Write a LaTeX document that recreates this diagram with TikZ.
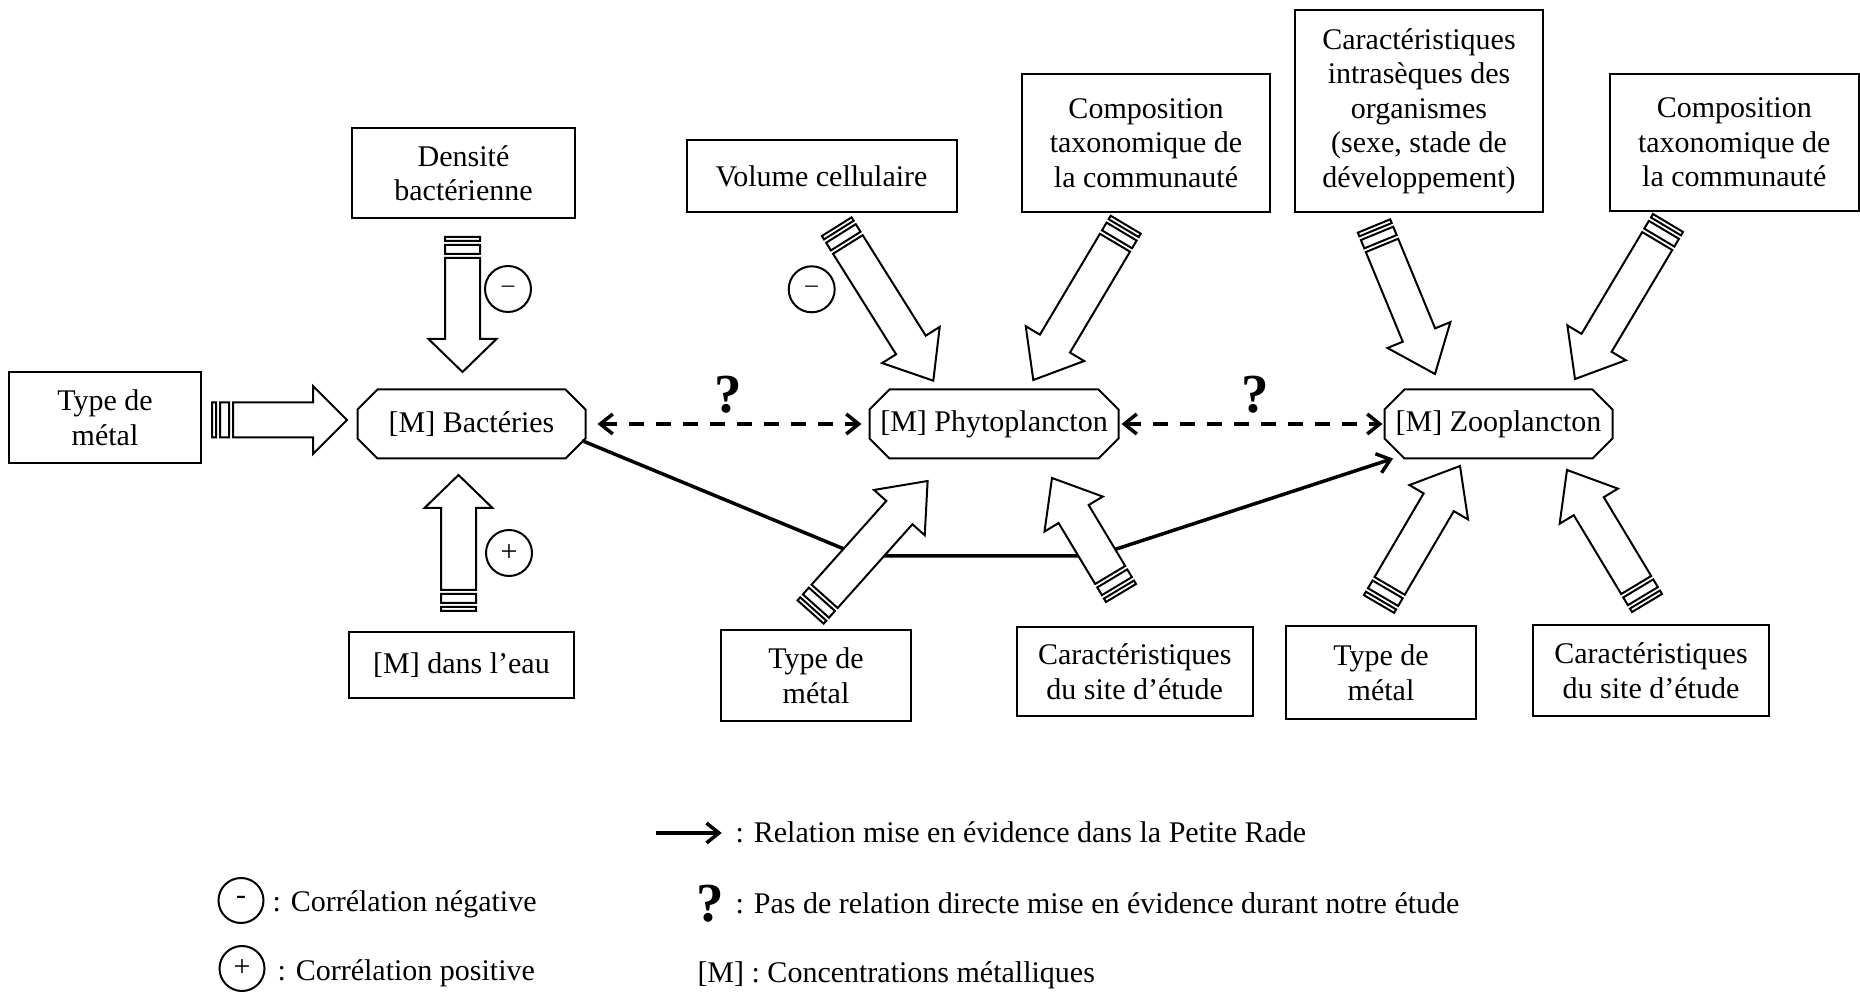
\documentclass[tikz,border=0pt]{standalone}
\usepackage{fontspec}
\setmainfont{Liberation Serif}
\usetikzlibrary{calc,arrows.meta}
\tikzset{
 bx/.style={draw, line width=0.8pt, align=center, inner sep=0pt},
 oct/.style={inner sep=0pt, align=center},
 octline/.style={draw, line width=0.8pt, line join=miter},
 blk/.style={draw, fill=white, line width=0.8pt, line join=miter},
 circ/.style={circle, draw, line width=0.8pt, minimum size=18.4pt, inner sep=0pt},
 rel/.style={line width=1.4pt, line join=round, -{Straight Barb[length=5pt,width=8pt]}},
 unk/.style={line width=1.4pt, dash pattern=on 6pt off 4.8pt, {Straight Barb[length=5pt,width=8pt]}-{Straight Barb[length=5pt,width=8pt]}},
 qm/.style={font=\fontsize{22}{24}\selectfont\bfseries, inner sep=0pt, anchor=base},
 leg/.style={inner sep=0pt, anchor=base west},
}
\newcommand\octa[1]{\draw[octline] ([xshift=8pt]#1.north west) -- ([xshift=-8pt]#1.north east) -- ([yshift=-8pt]#1.north east) -- ([yshift=8pt]#1.south east) -- ([xshift=-8pt]#1.south east) -- ([xshift=8pt]#1.south west) -- ([yshift=8pt]#1.south west) -- ([yshift=-8pt]#1.north west) -- cycle;}
\newcommand\blockarrow[3]{%
 \draw[blk] let \p1=($(#2)-(#1)$), \n1={atan2(\y1,\x1)}, \n2={veclen(\x1,\y1)} in
  ($(#1)+(\n1+90:7pt)$) -- ($(#1)+(\n1-90:7pt)$) -- ($(#1)+(\n1:1.6pt)+(\n1-90:7pt)$) -- ($(#1)+(\n1:1.6pt)+(\n1+90:7pt)$) -- cycle
  ($(#1)+(\n1:3.2pt)+(\n1+90:7pt)$) -- ($(#1)+(\n1:3.2pt)+(\n1-90:7pt)$) -- ($(#1)+(\n1:6.8pt)+(\n1-90:7pt)$) -- ($(#1)+(\n1:6.8pt)+(\n1+90:7pt)$) -- cycle
  ($(#1)+(\n1:8.4pt)+(\n1+90:7pt)$) -- ($(#1)+(\n1:\n2-#3)+(\n1+90:7pt)$) -- ($(#1)+(\n1:\n2-#3)+(\n1+90:13.6pt)$) -- (#2) -- ($(#1)+(\n1:\n2-#3)+(\n1-90:13.6pt)$) -- ($(#1)+(\n1:\n2-#3)+(\n1-90:7pt)$) -- ($(#1)+(\n1:8.4pt)+(\n1-90:7pt)$) -- cycle;
}
\begin{document}
\begin{tikzpicture}[x=0.4pt,y=-0.4pt, every node/.style={font=\fontsize{12}{13.8}\selectfont}]
\useasboundingbox (0,0) rectangle (1860,997);

% boxes
\node[bx, minimum width=76.4pt, minimum height=36.4pt] (b1) at (105,417.5) {Type de\\métal};
\node[bx, minimum width=89.2pt, minimum height=36pt] (b2) at (463.5,173) {Densité\\bactérienne};
\node[bx, minimum width=90pt, minimum height=26.4pt] (b3) at (461.5,665) {[M] dans l’eau};
\node[bx, minimum width=108pt, minimum height=28.8pt] (b4) at (821.5,176) {Volume cellulaire};
\node[bx, minimum width=99.2pt, minimum height=55.2pt] (b5) at (1146,143) {Composition\\taxonomique de\\la communauté};
\node[bx, minimum width=99.2pt, minimum height=80.8pt] (b6) at (1419,111) {Caractéristiques\\intrasèques des\\organismes\\(sexe, stade de\\développement)};
\node[bx, minimum width=99.4pt, minimum height=54.8pt] (b7) at (1734.25,142.5) {Composition\\taxonomique de\\la communauté};
\node[bx, minimum width=76pt, minimum height=36.4pt] (b8) at (816,675.5) {Type de\\métal};
\node[bx, minimum width=94.6pt, minimum height=35.6pt] (b9) at (1134.75,671.5) {Caractéristiques\\du site d’étude};
\node[bx, minimum width=76pt, minimum height=37.2pt] (b10) at (1381,672.5) {Type de\\métal};
\node[bx, minimum width=94.4pt, minimum height=36.4pt] (b11) at (1651,670.5) {Caractéristiques\\du site d’étude};

% octagons
\node[oct, minimum width=90.8pt, minimum height=27.2pt] (bact) at (471.5,424) {[M] Bactéries};
\node[oct, minimum width=99.2pt, minimum height=27.2pt] (phyto) at (994,424) {[M] Phytoplancton};
\node[oct, minimum width=90.8pt, minimum height=27.2pt] (zoo) at (1498.5,424) {[M] Zooplancton};
\octa{bact}\octa{phyto}\octa{zoo}

% relations
\coordinate (c1) at (861,556);
\coordinate (c2) at (1095,556);
\draw[rel, shorten <=-1.5pt] (bact.-9.4) -- (c1) -- (c2) -- (zoo);
\draw[unk, shorten <=4.8pt, shorten >=3.2pt] (bact.east) -- (phyto.west);
\draw[unk, shorten <=1.2pt, shorten >=0.8pt] (phyto.east) -- (zoo.west);
\node[qm] (q1) at (728,413) {?};
\node[qm] (q2) at (1255,413) {?};

% block arrows
\coordinate (a1t) at (212,420);   \coordinate (a1h) at (347,420);
\coordinate (a2t) at (462.5,237); \coordinate (a2h) at (462.5,372);
\coordinate (a3t) at (458.5,611); \coordinate (a3h) at (458.5,475);
\coordinate (a4t) at (836.7,226.7); \coordinate (a4h) at (933.3,380.7);
\coordinate (a5t) at (1125.7,224.7); \coordinate (a5h) at (1033.3,380);
\coordinate (a6t) at (810.6,612); \coordinate (a6h) at (927.6,481);
\coordinate (a7t) at (1121,593); \coordinate (a7h) at (1052,478);
\coordinate (a8t) at (1374,226); \coordinate (a8h) at (1435,374);
\coordinate (a9t) at (1668,223); \coordinate (a9h) at (1575,379);
\coordinate (a10t) at (1379,604); \coordinate (a10h) at (1460,466);
\coordinate (a11t) at (1647,603); \coordinate (a11h) at (1567,470);
\blockarrow{a1t}{a1h}{13.6pt}
\blockarrow{a2t}{a2h}{13.2pt}
\blockarrow{a3t}{a3h}{13.2pt}
\blockarrow{a4t}{a4h}{16.8pt}
\blockarrow{a5t}{a5h}{16.8pt}
\blockarrow{a6t}{a6h}{16.8pt}
\blockarrow{a7t}{a7h}{16.8pt}
\blockarrow{a8t}{a8h}{16.8pt}
\blockarrow{a9t}{a9h}{16.8pt}
\blockarrow{a10t}{a10h}{16.8pt}
\blockarrow{a11t}{a11h}{16.8pt}

% correlation marks
\node[circ] (n1) at (508,289) {\fontsize{10}{12}\selectfont –};
\node[circ] (p1) at (509,553) {+};
\node[circ] (n2) at (811.7,289.3) {\fontsize{10}{12}\selectfont –};

% legend
\coordinate (l1) at (656,833); \coordinate (l2) at (721.7,833);
\draw[rel] (l1) -- (l2);
\node[leg] (t1) at (735,843) {: Relation mise en évidence dans la Petite Rade};
\node[qm] (q3) at (710,922) {?};
\node[leg] (t2) at (735,913) {: Pas de relation directe mise en évidence durant notre étude};
\node[leg] (t3) at (697,982) {[M] : Concentrations métalliques};
\node[circ, minimum size=18pt] (ln) at (241,900.5) {-};
\node[leg] (t4) at (272,912) {: Corrélation négative};
\node[circ, minimum size=18pt] (lp) at (242,968.5) {+};
\node[leg] (t5) at (277,980) {: Corrélation positive};
\end{tikzpicture}
\end{document}
